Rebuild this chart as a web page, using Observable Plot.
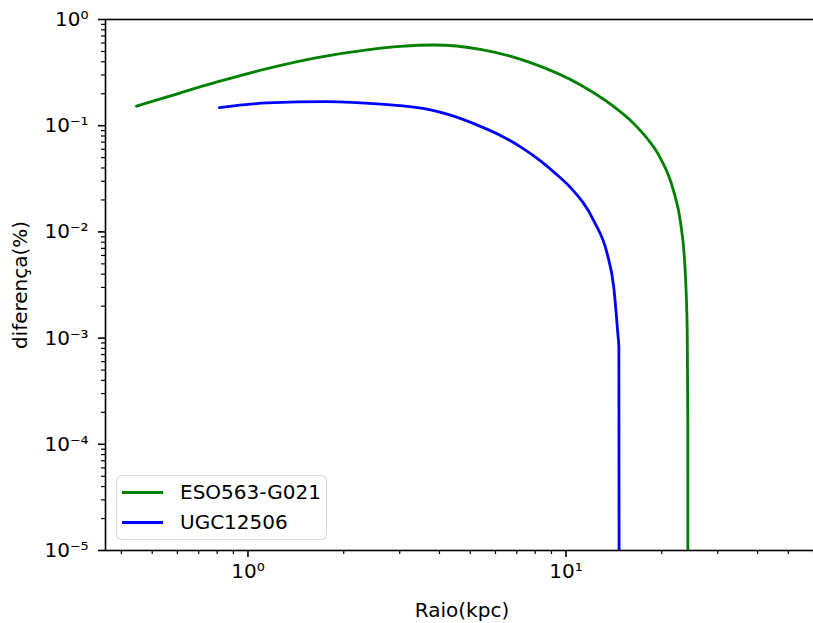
<!DOCTYPE html>
<html>
<head>
<meta charset="utf-8">
<script src="https://cdn.jsdelivr.net/npm/d3@7"></script>
<script src="https://cdn.jsdelivr.net/npm/@observablehq/plot@0.6"></script>
<style>
  html, body { margin: 0; padding: 0; background: #fff; overflow: hidden; }
  #wrap { position: relative; width: 813px; height: 623px; overflow: hidden; }
  .legend { position: absolute; left: 116px; top: 475px; width: 211px; height: 65px; box-sizing: border-box;
            border: 1.5px solid rgba(204,204,204,0.8); border-radius: 6px; background: rgba(255,255,255,0.8);
            font-family: "DejaVu Sans"; font-size: 20px; color: #000; }
  .legend .sw { position: absolute; left: 5px; width: 41px; height: 0; border-top: 3px solid; }
  .legend .lb { position: absolute; left: 63px; line-height: 20px; white-space: nowrap; }
</style>
</head>
<body>
<div id="wrap"></div>
<script>
// ESO563-G021 (green)
const esoRadius = [0.446, 0.557, 0.800, 1.149, 1.651, 2.371, 3.017, 3.83, 5.38, 7.73, 11.11, 14.11, 16.31, 18.0, 19.83, 21.78, 22.92, 23.59, 23.85, 24.05, 24.15, 24.18];
const esoDiff   = [0.1526, 0.1866, 0.2582, 0.3445, 0.4371, 0.5164, 0.5572, 0.5755, 0.5245, 0.3923, 0.2419, 0.1519, 0.1051, 0.0758, 0.0491, 0.02435, 0.01218, 0.00535, 0.00279, 0.0011, 0.000167, 1e-9];
// UGC12506 (blue)
const ugcRadius = [0.813, 1.149, 1.775, 2.61, 3.75, 4.23, 5.38, 6.22, 7.19, 8.31, 9.38, 10.33, 12.23, 13.48, 14.13, 14.55, 14.66, 14.73];
const ugcDiff   = [0.148, 0.1638, 0.1685, 0.1593, 0.1408, 0.1283, 0.0985, 0.0810, 0.0632, 0.0467, 0.0344, 0.02617, 0.01272, 0.00618, 0.0030, 0.0011, 0.00082, 1e-9];

const seriesNames = ["ESO563-G021", "UGC12506"];
const seriesColors = ["green", "blue"];

const xMajorTicks = [1, 10];
const yMajorTicks = [1e-5, 1e-4, 1e-3, 1e-2, 1e-1, 1];
const xMinorTicks = [0.4, 0.5, 0.6, 0.7, 0.8, 0.9, 2, 3, 4, 5, 6, 7, 8, 9, 20, 30, 40, 50, 60];
const yMinorTicks = [];
for (let d = -5; d < 0; d++) for (let k = 2; k <= 9; k++) yMinorTicks.push(k * Math.pow(10, d));

const xDomain = [0.3565, 62.2];
const yDomain = [1e-5, 1];

const sup = {"-": "\u207B", "0": "\u2070", "1": "\u00B9", "2": "\u00B2", "3": "\u00B3", "4": "\u2074", "5": "\u2075"};
const fmt = v => "10" + String(Math.round(Math.log10(v))).split("").map(c => sup[c]).join("");

const eso = esoRadius.map((r, i) => ({r, d: esoDiff[i]}));
const ugc = ugcRadius.map((r, i) => ({r, d: ugcDiff[i]}));

const chart = Plot.plot({
  width: 813, height: 623,
  marginLeft: 105, marginRight: -5, marginTop: 19, marginBottom: 73,
  style: {fontFamily: "DejaVu Sans", fontSize: "20px", color: "black", background: "white", overflow: "hidden"},
  x: {type: "log", domain: xDomain},
  y: {type: "log", domain: yDomain},
  marks: [
    Plot.line(eso, {x: "r", y: "d", stroke: seriesColors[0], strokeWidth: 2.8, curve: "monotone-x", clip: true}),
    Plot.line(ugc, {x: "r", y: "d", stroke: seriesColors[1], strokeWidth: 2.8, curve: "monotone-x", clip: true}),
    Plot.axisX(xMinorTicks, {tickSize: 4, strokeWidth: 1.2, tickFormat: () => "", label: null}),
    Plot.axisY(yMinorTicks, {tickSize: 4, strokeWidth: 1.2, tickFormat: () => "", label: null}),
    Plot.axisX(xMajorTicks, {tickSize: 7, tickPadding: 6, strokeWidth: 1.6, tickFormat: fmt, fontSize: 20,
      label: "Raio(kpc)", labelAnchor: "center", labelOffset: 66, labelArrow: "none"}),
    Plot.axisY(yMajorTicks, {tickSize: 7, tickPadding: 10, strokeWidth: 1.6, tickFormat: fmt, fontSize: 20,
      label: "diferença(%)", labelAnchor: "center", labelOffset: 93, labelArrow: "none"}),
    Plot.frame({stroke: "black", strokeWidth: 1.6})
  ]
});

const wrap = document.getElementById("wrap");
wrap.appendChild(chart);

const legend = document.createElement("div");
legend.className = "legend";
seriesNames.forEach((name, i) => {
  const sw = document.createElement("div");
  sw.className = "sw";
  sw.style.borderTopColor = seriesColors[i];
  sw.style.top = (15 + i * 30) + "px";
  legend.appendChild(sw);
  const lb = document.createElement("div");
  lb.className = "lb";
  lb.style.top = (6 + i * 30) + "px";
  lb.textContent = name;
  legend.appendChild(lb);
});
wrap.appendChild(legend);
</script>
</body>
</html>
